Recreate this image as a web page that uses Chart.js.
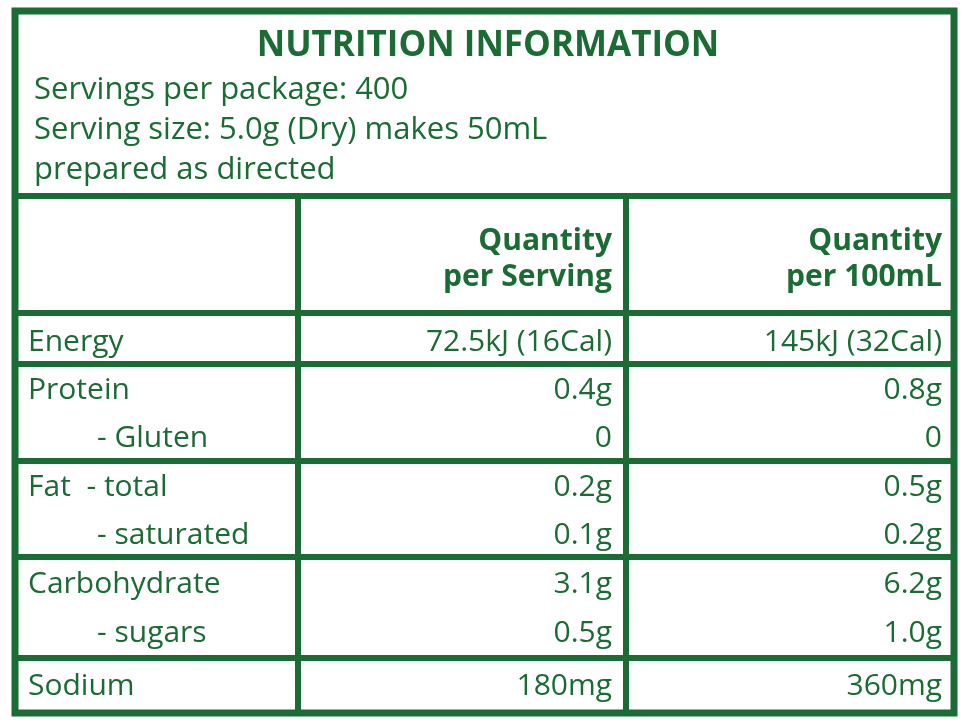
<!DOCTYPE html><html><head><style>html,body{margin:0;padding:0;background:#fff}#w{width:965px;height:724px}</style>
<script src="https://cdn.jsdelivr.net/npm/chart.js@4"></script></head><body><div id="w"><canvas id="c"></canvas></div><script>
const title="NUTRITION INFORMATION";
const headerLines=["Servings per package: 400","Serving size: 5.0g (Dry) makes 50mL","prepared as directed"];
const colHeads=[["Quantity","per Serving"],["Quantity","per 100mL"]];
const nutrients=["Energy","Protein","    - Gluten","Fat  - total","    - saturated","Carbohydrate","    - sugars","Sodium"];
const perServing=["72.5kJ (16Cal)","0.4g","0","0.2g","0.1g","3.1g","0.5g","180mg"];
const per100=["145kJ (32Cal)","0.8g","0","0.5g","0.2g","6.2g","1.0g","360mg"];
const rowY=[340,388,436,485,533,582,631,684];
const hLines=[196,313,364,461,557,658];
const vLines=[298,626];
const G="#1b6b34";
const tbl={id:'tbl',afterDraw(ch){const c=ch.ctx,X=v=>ch.scales.x.getPixelForValue(v),Y=v=>ch.scales.y.getPixelForValue(v);
c.save();c.strokeStyle=G;c.fillStyle=G;c.lineWidth=7;c.strokeRect(X(15),Y(11),X(954)-X(15),Y(713)-Y(11));
c.lineWidth=6;hLines.forEach(h=>{c.beginPath();c.moveTo(X(15),Y(h));c.lineTo(X(954),Y(h));c.stroke();});
vLines.forEach(v=>{c.beginPath();c.moveTo(X(v),Y(196));c.lineTo(X(v),Y(713));c.stroke();});
c.textBaseline='alphabetic';c.font='bold 35px "Open Sans"';c.textAlign='center';c.fillText(title,X(488),Y(56));
c.font='31px "Open Sans"';c.textAlign='left';headerLines.forEach((t,i)=>c.fillText(t,X(34),Y(99+i*40)));
c.font='bold 30px "Open Sans"';c.textAlign='right';colHeads.forEach((h,i)=>{const x=i?942:612;c.fillText(h[0],X(x),Y(250));c.fillText(h[1],X(x),Y(286));});
c.font='30px "Open Sans"';nutrients.forEach((n,i)=>{c.textAlign='left';c.fillText(n.trim(),X(n.startsWith('    ')?97:28),Y(rowY[i]+11));
c.textAlign='right';c.fillText(perServing[i],X(612),Y(rowY[i]+11));c.fillText(per100[i],X(942),Y(rowY[i]+11));});
c.restore();}};
new Chart(document.getElementById('c'),{type:'scatter',data:{datasets:[{data:[]}]},plugins:[tbl],options:{responsive:true,maintainAspectRatio:false,animation:false,layout:{padding:0},plugins:{legend:{display:false},tooltip:{enabled:false}},
scales:{x:{type:'linear',min:0,max:965,display:false},y:{type:'linear',min:0,max:724,reverse:true,display:false}}}});
</script></body></html>
